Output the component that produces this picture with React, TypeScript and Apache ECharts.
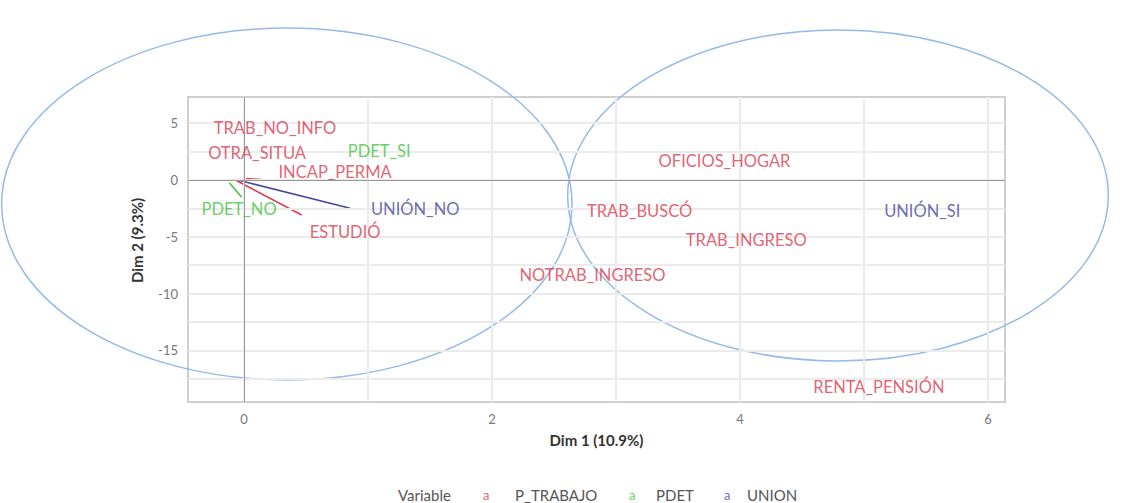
import React, { useEffect, useRef } from "react";
import * as echarts from "echarts";

// Variable groups
const groups = ["P_TRABAJO", "PDET", "UNION"];
const groupColors = ["#da3a4f", "#3ec43e", "#48489a"];

// Category labels (MCA variable categories) and the position of each label
const categories = [
  "TRAB_NO_INFO",
  "OTRA_SITUA",
  "INCAP_PERMA",
  "ESTUDIÓ",
  "OFICIOS_HOGAR",
  "TRAB_BUSCÓ",
  "TRAB_INGRESO",
  "NOTRAB_INGRESO",
  "RENTA_PENSIÓN",
  "PDET_SI",
  "PDET_NO",
  "UNIÓN_NO",
  "UNIÓN_SI",
];
const categoryGroup = [0, 0, 0, 0, 0, 0, 0, 0, 0, 1, 1, 2, 2];
const labelDim1 = [0.25, 0.105, 0.734, 0.815, 3.875, 3.19, 4.05, 2.81, 5.12, 1.09, -0.04, 1.38, 5.47];
const labelDim2 = [4.6, 2.35, 0.73, -4.55, 1.7, -2.73, -5.28, -8.36, -18.2, 2.55, -2.58, -2.58, -2.7];

// Connector segments (point near origin -> repelled label)
const segmentCategory = ["INCAP_PERMA", "ESTUDIÓ", "PDET_NO", "UNIÓN_NO"];
const segmentFromDim1 = [0.016, -0.059, -0.119, -0.073];
const segmentFromDim2 = [0.13, -0.06, -0.24, 0.06];
const segmentToDim1 = [0.145, 0.465, -0.019, 0.855];
const segmentToDim2 = [0.04, -3.08, -1.52, -2.49];

// Ellipses: centre (dim1, dim2) and radii
const ellipseCx = [0.345, 4.79];
const ellipseCy = [-2.11, -1.36];
const ellipseRx = [2.3, 2.18];
const ellipseRy = [15.49, 14.57];

// Axes
const xMin = -0.452;
const xMax = 6.137;
const yMin = -19.54;
const yMax = 7.31;
const xTickLabels = [0, 2, 4, 6];
const yTickLabels = [-15, -10, -5, 0, 5];
const xGridValues = [0, 1, 2, 3, 4, 5, 6];
const yGridValues = [-17.5, -15, -12.5, -10, -7.5, -5, -2.5, 0, 2.5, 5];
const xName = "Dim 1 (10.9%)";
const yName = "Dim 2 (9.3%)";
const legendTitle = "Variable";

const FONT = 'Lato, "Open Sans", sans-serif';

export default function App() {
  const ref = useRef<HTMLDivElement>(null);

  useEffect(() => {
    if (!ref.current) return;
    const chart = echarts.init(ref.current, null, { renderer: "svg" });

    const labelSeries = groups.map((g, gi) => ({
      type: "scatter",
      name: g,
      symbolSize: 0,
      silent: true,
      z: 5,
      itemStyle: { color: groupColors[gi] },
      label: {
        show: true,
        position: "inside",
        formatter: (p: any) => p.value[2],
        color: groupColors[gi],
        fontFamily: FONT,
        fontSize: 16.5,
      },
      data: categories
        .map((c, i) => ({ c, i }))
        .filter(({ i }) => categoryGroup[i] === gi)
        .map(({ c, i }) => [labelDim1[i], labelDim2[i], c]),
    }));

    const segmentData = segmentCategory.map((c, k) => {
      const gi = categoryGroup[categories.indexOf(c)];
      return {
        coords: [
          [segmentFromDim1[k], segmentFromDim2[k]],
          [segmentToDim1[k], segmentToDim2[k]],
        ],
        lineStyle: { color: groupColors[gi] },
      };
    });

    const legendGraphics: any[] = [
      {
        type: "text",
        left: 398,
        top: 487,
        style: { text: legendTitle, fill: "#555", font: `15px ${FONT}` },
      },
    ];
    const legendIconX = [483, 629, 724];
    const legendTextX = [515, 656, 747];
    groups.forEach((g, gi) => {
      legendGraphics.push({
        type: "text",
        left: legendIconX[gi],
        top: 488,
        style: { text: "a", fill: groupColors[gi], font: `13px ${FONT}`, opacity: 0.8 },
      });
      legendGraphics.push({
        type: "text",
        left: legendTextX[gi],
        top: 487,
        style: { text: g, fill: "#555", font: `15px ${FONT}` },
      });
    });

    const axisLabelStyle = {
      margin: 10,
      color: "#777",
      fontFamily: FONT,
      fontSize: 13,
    };

    chart.setOption({
      animation: false,
      backgroundColor: "#ffffff",
      grid: {
        left: 188,
        right: 124,
        top: 97,
        bottom: 101,
        show: true,
        borderColor: "#cfcfcf",
        borderWidth: 2,
        backgroundColor: "#ffffff",
        containLabel: false,
      },
      xAxis: {
        type: "value",
        min: xMin,
        max: xMax,
        name: xName,
        nameLocation: "middle",
        nameGap: 30,
        nameTextStyle: { fontFamily: FONT, fontWeight: "bold", fontSize: 15, color: "#333" },
        axisLine: { show: false },
        axisTick: { show: false },
        axisLabel: { ...axisLabelStyle, customValues: xTickLabels },
        splitLine: { show: false },
      },
      yAxis: {
        type: "value",
        min: yMin,
        max: yMax,
        name: yName,
        nameLocation: "middle",
        nameRotate: 90,
        nameGap: 44,
        nameTextStyle: {
          fontFamily: FONT,
          fontWeight: "bold",
          fontSize: 15,
          color: "#333",
          padding: [0, 0, 0, 18],
        },
        axisLine: { show: false },
        axisTick: { show: false },
        axisLabel: { ...axisLabelStyle, customValues: yTickLabels },
        splitLine: { show: false },
      },
      graphic: legendGraphics,
      series: [
        {
          type: "line",
          data: [],
          silent: true,
          z: 1,
          markLine: {
            silent: true,
            symbol: "none",
            label: { show: false },
            lineStyle: { color: "#ebebeb", width: 2, type: "solid" },
            data: [
              ...xGridValues.map((v) => ({ xAxis: v })),
              ...yGridValues.map((v) => ({ yAxis: v })),
            ],
          },
        },
        {
          type: "line",
          data: [],
          silent: true,
          z: 2,
          markLine: {
            silent: true,
            symbol: "none",
            label: { show: false },
            lineStyle: { color: "#999999", width: 1, type: "solid" },
            data: [{ xAxis: 0 }, { yAxis: 0 }],
          },
        },
        {
          type: "lines",
          coordinateSystem: "cartesian2d",
          silent: true,
          z: 4,
          lineStyle: { width: 1.5, opacity: 1 },
          data: segmentData,
        },
        {
          type: "custom",
          clip: false,
          silent: true,
          z: 3,
          data: ellipseCx.map((cx, i) => [cx, ellipseCy[i], ellipseRx[i], ellipseRy[i]]),
          renderItem: (_p: any, api: any) => {
            const c = api.coord([api.value(0), api.value(1)]);
            const s = api.size([api.value(2), api.value(3)]);
            return {
              type: "ellipse",
              shape: { cx: c[0], cy: c[1], rx: s[0], ry: s[1] },
              style: { fill: "none", stroke: "#93baea", lineWidth: 1.5 },
            };
          },
        },
        ...labelSeries,
      ],
    });

    return () => chart.dispose();
  }, []);

  return (
    <div
      ref={ref}
      style={{ position: "absolute", left: 0, top: 0, width: 1129, height: 503 }}
    />
  );
}
